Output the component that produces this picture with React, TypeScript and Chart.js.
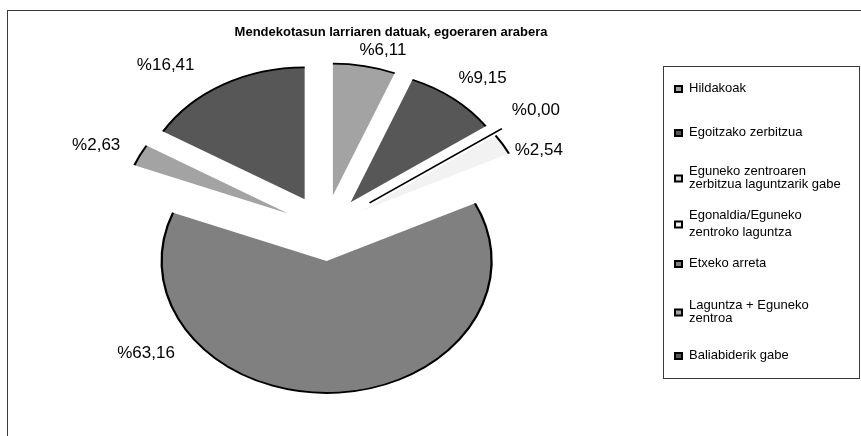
import React, { useEffect, useRef } from 'react';
import { Chart, registerables } from 'chart.js';

Chart.register(...registerables);

// ---------------- data ----------------
const TITLE = 'Mendekotasun larriaren datuak, egoeraren arabera';
const CATEGORIES = [
  'Hildakoak',
  'Egoitzako zerbitzua',
  'Eguneko zentroaren zerbitzua laguntzarik gabe',
  'Egonaldia/Eguneko zentroko laguntza',
  'Etxeko arreta',
  'Laguntza + Eguneko zentroa',
  'Baliabiderik gabe',
];
const VALUES = [6.11, 9.15, 0.0, 2.54, 63.16, 2.63, 16.41];
const VALUE_LABELS = ['%6,11', '%9,15', '%0,00', '%2,54', '%63,16', '%2,63', '%16,41'];
const LEGEND_LINES = [
  ['Hildakoak'],
  ['Egoitzako zerbitzua'],
  ['Eguneko zentroaren', 'zerbitzua laguntzarik gabe'],
  ['Egonaldia/Eguneko', 'zentroko laguntza'],
  ['Etxeko arreta'],
  ['Laguntza + Eguneko', 'zentroa'],
  ['Baliabiderik gabe'],
];

// ---------------- styles / layout ----------------
const SLICE_COLORS = ['#a3a3a3', '#575757', '#d9d9d9', '#f2f2f2', '#808080', '#a3a3a3', '#575757'];
const W = 861;
const H = 436;
const PIE_RADIUS = 132;
const EXPLODE = 33;
const SX = 1.25; // horizontal stretch of the pie
const FONT = 'Arial, "Liberation Sans", sans-serif';
// label anchor: [angle from 12 o'clock (deg, clockwise), distance in pie units]
const LABEL_POLAR = [
  [14.6, 184],
  [40, 196],
  [55, 206],
  [65.5, 188],
  [228.9, 190],
  [294.4, 201],
  [322, 207],
];
const LEGEND_BOX = { x: 663.5, y: 66.5, w: 196, h: 312 };
const LEGEND_ROW_Y = [88, 132, 177.5, 223.5, 263, 311.5, 355];
const LEGEND_LINE_GAP = [0, 0, 13, 17, 0, 13, 0];
const LEGEND_TEXT_X = 689;
const LEGEND_MARK_X = 674;

const piePlugin = {
  id: 'explodedEllipsePie',
  beforeDatasetDraw(chart: any, args: any) {
    const meta = chart.getDatasetMeta(args.index);
    const arcs = meta.data as any[];
    if (!arcs.length) return false;
    const ctx = chart.ctx as CanvasRenderingContext2D;
    const cx = arcs[0].x;
    const cy = arcs[0].y;
    ctx.save();
    ctx.translate(cx, cy);
    ctx.scale(SX, 1);
    ctx.translate(-cx, -cy);
    arcs.forEach((arc: any) => {
      const mid = (arc.startAngle + arc.endAngle) / 2;
      ctx.save();
      ctx.translate(Math.cos(mid) * EXPLODE, Math.sin(mid) * EXPLODE);
      ctx.strokeStyle = '#000';
      if (arc.circumference > 0) {
        arc.draw(ctx);
        ctx.beginPath();
        ctx.arc(arc.x, arc.y, arc.outerRadius, arc.startAngle, arc.endAngle);
        ctx.lineWidth = 1.8;
        ctx.stroke();
      } else {
        const a = arc.startAngle;
        ctx.beginPath();
        ctx.moveTo(arc.x + Math.cos(a) * arc.outerRadius * 0.08, arc.y + Math.sin(a) * arc.outerRadius * 0.08);
        ctx.lineTo(arc.x + Math.cos(a) * arc.outerRadius * 1.06, arc.y + Math.sin(a) * arc.outerRadius * 1.06);
        ctx.lineWidth = 1.5;
        ctx.stroke();
      }
      ctx.restore();
    });
    ctx.restore();
    return false;
  },
  afterDraw(chart: any) {
    const ctx = chart.ctx as CanvasRenderingContext2D;
    const arcs = chart.getDatasetMeta(0).data as any[];
    const cx = arcs[0].x;
    const cy = arcs[0].y;
    ctx.save();
    // outer frame
    ctx.strokeStyle = '#3a3a3a';
    ctx.lineWidth = 1;
    ctx.strokeRect(7.5, 10.5, W + 20, H + 20);
    // title
    ctx.fillStyle = '#000';
    ctx.font = 'bold 13px ' + FONT;
    ctx.textAlign = 'center';
    ctx.textBaseline = 'middle';
    ctx.fillText(TITLE, 391, 32);
    // value labels
    ctx.font = '17px ' + FONT;
    VALUE_LABELS.forEach((lab, i) => {
      const a = (LABEL_POLAR[i][0] * Math.PI) / 180;
      const d = LABEL_POLAR[i][1];
      ctx.fillText(lab, cx + SX * d * Math.sin(a), cy - d * Math.cos(a));
    });
    // legend
    ctx.strokeStyle = '#3a3a3a';
    ctx.strokeRect(LEGEND_BOX.x, LEGEND_BOX.y, LEGEND_BOX.w, LEGEND_BOX.h);
    ctx.font = '13px ' + FONT;
    ctx.textAlign = 'left';
    LEGEND_LINES.forEach((lines, i) => {
      const yc = LEGEND_ROW_Y[i];
      const gap = LEGEND_LINE_GAP[i];
      const y0 = yc - (gap * (lines.length - 1)) / 2;
      ctx.fillStyle = '#000';
      lines.forEach((t, j) => ctx.fillText(t, LEGEND_TEXT_X, y0 + j * gap));
      ctx.fillStyle = '#000';
      ctx.fillRect(LEGEND_MARK_X, yc - 3, 9, 8);
      ctx.fillStyle = SLICE_COLORS[i];
      ctx.fillRect(LEGEND_MARK_X + 2, yc - 1, 5, 4);
    });
    ctx.restore();
  },
};

export default function App() {
  const ref = useRef<HTMLCanvasElement | null>(null);
  useEffect(() => {
    if (!ref.current) return;
    const chart = new Chart(ref.current, {
      type: 'pie',
      data: {
        labels: CATEGORIES,
        datasets: [
          {
            data: VALUES,
            backgroundColor: SLICE_COLORS,
            borderWidth: 0,
            offset: 0,
          },
        ],
      },
      options: {
        responsive: false,
        animation: false,
        radius: PIE_RADIUS,
        layout: { padding: { left: 100, right: 311, top: 40, bottom: 20 } },
        plugins: {
          legend: { display: false },
          title: { display: false },
          tooltip: { enabled: false },
        },
      },
      plugins: [piePlugin],
    });
    return () => chart.destroy();
  }, []);
  return (
    <div style={{ position: 'fixed', left: 0, top: 0, width: W, height: H, background: '#fff' }}>
      <canvas ref={ref} width={W} height={H} style={{ display: 'block', width: W, height: H }} />
    </div>
  );
}
